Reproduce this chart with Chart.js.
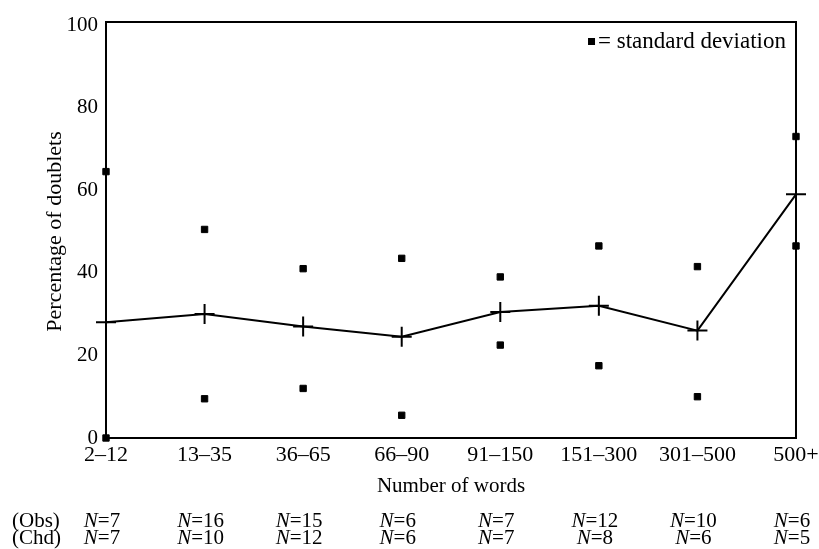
<!DOCTYPE html>
<html lang="en">
<head>
  <meta charset="UTF-8">
  <title>Percentage of doublets by number of words</title>
  <script src="https://cdn.jsdelivr.net/npm/chart.js"></script>
  <style>
    html, body { margin: 0; padding: 0; background: #fff; }
    canvas { display: block; }
  </style>
</head>
<body>
  <canvas id="doubletsChart" width="819" height="549"></canvas>

  <script>
    // values
    const categories = ['2–12', '13–35', '36–65', '66–90', '91–150', '151–300', '301–500', '500+'];
    const meanPct = [28, 30, 27, 24.5, 30.5, 32, 26, 59];
    const upperSD = [64.5, 50.5, 41, 43.5, 39, 46.5, 41.5, 73];
    const lowerSD = [0, 9.5, 12, 5.5, 22.5, 17.5, 10, 46.5];
    const obsN = [7, 16, 15, 6, 7, 12, 10, 6];
    const chdN = [7, 10, 12, 6, 7, 8, 6, 5];
    const yTicks = [0, 20, 40, 60, 80, 100];

    const SERIF = '"Liberation Serif", "Times New Roman", serif';

    // box round the plot (top and right sides too)
    const framePlugin = {
      id: 'frame',
      beforeDatasetsDraw(chart) {
        const { ctx, chartArea: a } = chart;
        ctx.save();
        ctx.strokeStyle = '#000';
        ctx.lineWidth = 2;
        ctx.strokeRect(a.left, a.top - 3, a.right - a.left, a.bottom - a.top + 3);
        ctx.restore();
      }
    };

    // "■ = standard deviation" key and the N rows under the axis
    const notesPlugin = {
      id: 'notes',
      afterDraw(chart) {
        const { ctx } = chart;
        const x = chart.scales.x;
        ctx.save();
        ctx.fillStyle = '#000';
        ctx.textBaseline = 'middle';

        ctx.font = '23px ' + SERIF;
        ctx.textAlign = 'right';
        const key = '= standard deviation';
        ctx.fillText(key, 786, 42);
        const kw = ctx.measureText(key).width;
        ctx.fillRect(786 - kw - 10, 38, 7, 7);

        const rows = [['(Obs)', obsN, 521], ['(Chd)', chdN, 538]];
        rows.forEach(([name, vals, y]) => {
          ctx.textAlign = 'left';
          ctx.font = '21px ' + SERIF;
          ctx.fillText(name, 12, y);
          vals.forEach((n, i) => {
            const cx = x.getPixelForValue(i) - 4;
            ctx.font = 'italic 21px ' + SERIF;
            const wN = ctx.measureText('N').width;
            ctx.font = '21px ' + SERIF;
            const rest = '=' + n;
            const wR = ctx.measureText(rest).width;
            const start = cx - (wN + wR) / 2;
            ctx.font = 'italic 21px ' + SERIF;
            ctx.fillText('N', start, y);
            ctx.font = '21px ' + SERIF;
            ctx.fillText(rest, start + wN, y);
          });
        });
        ctx.restore();
      }
    };

    new Chart(document.getElementById('doubletsChart'), {
      type: 'line',
      data: {
        labels: categories,
        datasets: [
          {
            label: 'Mean',
            data: meanPct,
            borderColor: '#000',
            backgroundColor: '#000',
            borderWidth: 2,
            pointStyle: 'cross',
            pointRadius: 10,
            pointBorderWidth: 2,
            tension: 0,
            clip: false
          },
          {
            label: 'Upper SD',
            data: upperSD,
            showLine: false,
            pointStyle: 'rect',
            pointRadius: 4.5,
            pointBorderWidth: 1,
            borderColor: '#000',
            backgroundColor: '#000',
            clip: false
          },
          {
            label: 'Lower SD',
            data: lowerSD,
            showLine: false,
            pointStyle: 'rect',
            pointRadius: 4.5,
            pointBorderWidth: 1,
            borderColor: '#000',
            backgroundColor: '#000',
            clip: false
          }
        ]
      },
      options: {
        responsive: false,
        animation: false,
        layout: { padding: { left: 0, right: 23, top: 25, bottom: 0 } },
        plugins: {
          legend: { display: false },
          tooltip: { enabled: false }
        },
        scales: {
          x: {
            type: 'category',
            offset: false,
            grid: { display: false, drawTicks: false },
            border: { display: false },
            ticks: {
              color: '#000',
              font: { family: SERIF, size: 22 },
              padding: 4,
              maxRotation: 0,
              autoSkip: false
            },
            title: {
              display: true,
              text: 'Number of words',
              color: '#000',
              font: { family: SERIF, size: 21, lineHeight: 1 },
              padding: { top: 0, bottom: 52 }
            },
            afterFit(axis) {
              axis.height = 111;
              axis.paddingRight = 0;
            }
          },
          y: {
            min: 0,
            max: 100,
            grid: { display: false, drawTicks: false },
            border: { display: false },
            afterBuildTicks(axis) { axis.ticks = yTicks.map(v => ({ value: v })); },
            ticks: {
              color: '#000',
              font: { family: SERIF, size: 21 },
              padding: 8
            },
            title: {
              display: true,
              text: 'Percentage of doublets',
              color: '#000',
              font: { family: SERIF, size: 22, lineHeight: 1 },
              padding: { top: 44, bottom: 0 }
            },
            afterFit(axis) { axis.width = 106; }
          }
        }
      },
      plugins: [framePlugin, notesPlugin]
    });
  </script>
</body>
</html>
